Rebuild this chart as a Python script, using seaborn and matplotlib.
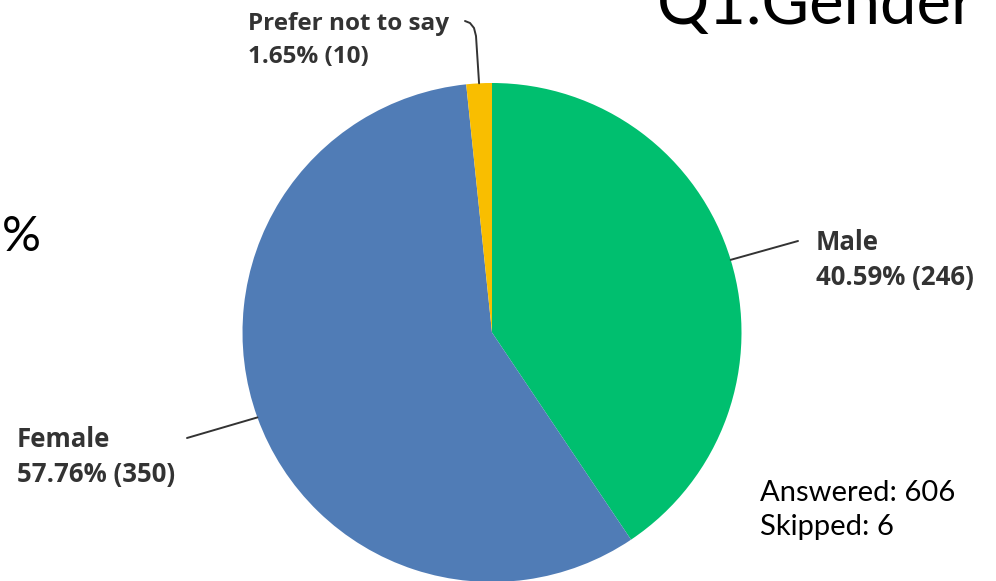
import numpy as np
import matplotlib
matplotlib.use("Agg")
import matplotlib.pyplot as plt
import seaborn as sns

# data
labels = ['Male', 'Female', 'Prefer not to say']
counts = [246, 350, 10]
percents = [40.59, 57.76, 1.65]
colors = ['#00BF6F', '#507CB6', '#F9BE00']
answered = 606
skipped = 6
title = 'Q1.Gender'

sns.set_theme(style='white')
plt.rcParams['font.family'] = ['Lato', 'DejaVu Sans']

W, H = 996, 581
fig = plt.figure(figsize=(W / 100, H / 100), dpi=100)
ax = fig.add_axes([0, 0, 1, 1])

def Y(py):
    # pixel row (from top) -> data y
    return H - py

cx, cy, r = 492, Y(332.5), 249.5
wedges, _ = ax.pie(counts, colors=colors, startangle=90, counterclock=False,
                   center=(cx, cy), radius=r, wedgeprops=dict(linewidth=0))
ax.set_xlim(0, W)
ax.set_ylim(0, H)
ax.axis('off')

# leader lines start at the middle of each wedge's outer edge
def edge_point(w):
    a = np.deg2rad((w.theta1 + w.theta2) / 2)
    return cx + r * np.cos(a), cy + r * np.sin(a)

lab_font = dict(family=['Open Sans', 'DejaVu Sans'], fontweight='bold',
                fontsize=18.5, color='#333333', va='baseline')

# Male
x0, y0 = edge_point(wedges[0])
ax.plot([x0, 798], [y0, Y(241)], color='#333333', lw=1.4)
ax.text(816, Y(250), labels[0], **lab_font)
ax.text(816, Y(285), f'{percents[0]:.2f}% ({counts[0]})', **lab_font)

# Female
x0, y0 = edge_point(wedges[1])
ax.plot([x0, 187], [y0, Y(438)], color='#333333', lw=1.4)
ax.text(17, Y(447), labels[1], **lab_font)
ax.text(17, Y(482), f'{percents[1]:.2f}% ({counts[1]})', **lab_font)

# Prefer not to say
x0, y0 = edge_point(wedges[2])
ax.plot([x0, 476, 474, 470, 465], [y0, Y(36), Y(28), Y(23), Y(21)],
        color='#333333', lw=1.4)
small = dict(lab_font, fontsize=17.5)
ax.text(248, Y(30), labels[2], **small)
ax.text(248, Y(63), f'{percents[2]:.2f}% ({counts[2]})', **small)

# slide text around the chart
ax.text(657, Y(24), title, fontsize=47, color='black', va='baseline')
ax.text(2, Y(251), '%', fontsize=35, color='black', va='baseline')
ax.text(760, Y(501), f'Answered: {answered}', fontsize=21, color='black', va='baseline')
ax.text(760, Y(535), f'Skipped: {skipped}', fontsize=21, color='black', va='baseline')

fig.savefig('out.png', dpi=100, facecolor='white')
